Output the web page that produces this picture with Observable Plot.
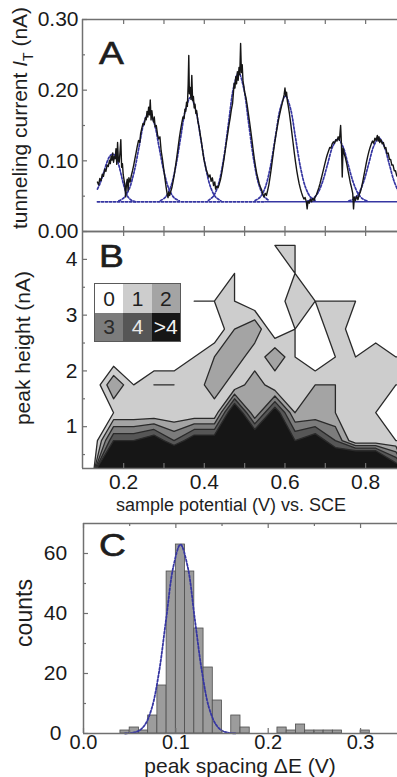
<!DOCTYPE html>
<html><head><meta charset="utf-8">
<script src="https://cdn.jsdelivr.net/npm/d3@7"></script>
<script src="https://cdn.jsdelivr.net/npm/@observablehq/plot@0.6"></script>
<style>
html,body{margin:0;padding:0;background:#fff;overflow:hidden}
#wrap{position:relative;width:397px;height:777px;font-family:"Liberation Sans",Arial,Helvetica,sans-serif;color:#1e1e1e;background:#fff}
#wrap svg{position:absolute;left:0;overflow:visible;background:transparent}
.t{position:absolute;white-space:nowrap;line-height:1;color:#1e1e1e}
.rot{transform:translate(-50%,-50%) rotate(-90deg)}
.ctr{transform:translate(-50%,-50%)}
.lg{position:absolute;left:94px;top:283px;width:87px;height:59px;display:grid;grid-template-columns:repeat(3,1fr);grid-template-rows:repeat(2,1fr);border:1px solid #5a5a5a;box-sizing:border-box}
.lg div{display:flex;align-items:center;justify-content:center;font-size:21px;line-height:1}
</style></head><body><div id="wrap"></div>
<script>
// ---------- Panel A: tunneling current vs sample potential ----------
const traceA = [
[0.135,0.070],[0.138,0.066],[0.141,0.075],[0.144,0.072],[0.147,0.081],[0.150,0.078],[0.153,0.088],[0.156,0.085],[0.159,0.094],[0.162,0.092],[0.165,0.101],[0.167,0.096],[0.169,0.107],[0.171,0.101],[0.173,0.111],[0.175,0.098],[0.177,0.106],[0.179,0.103],[0.181,0.117],[0.183,0.095],[0.185,0.126],[0.187,0.100],[0.189,0.098],[0.191,0.112],[0.193,0.130],[0.195,0.091],[0.197,0.096],[0.199,0.080],[0.201,0.073],[0.203,0.066],[0.205,0.049],[0.207,0.068],[0.209,0.074],[0.211,0.058],
[0.213,0.076],[0.216,0.070],[0.219,0.079],[0.222,0.086],[0.225,0.094],[0.228,0.103],[0.231,0.112],[0.234,0.121],[0.237,0.129],[0.240,0.126],[0.242,0.138],[0.245,0.146],[0.248,0.153],[0.251,0.151],[0.254,0.161],[0.256,0.158],[0.258,0.170],[0.260,0.162],[0.262,0.176],[0.264,0.165],[0.266,0.186],[0.268,0.158],[0.270,0.171],
[0.272,0.160],[0.274,0.155],[0.276,0.162],[0.278,0.148],[0.281,0.150],[0.284,0.137],[0.287,0.131],[0.290,0.134],[0.293,0.114],[0.296,0.103],[0.299,0.090],[0.302,0.077],[0.305,0.064],[0.308,0.053],[0.310,0.048],[0.312,0.056],[0.314,0.051],
[0.317,0.057],[0.320,0.063],[0.323,0.072],[0.326,0.082],[0.329,0.094],[0.332,0.106],[0.335,0.119],[0.338,0.132],[0.341,0.143],[0.344,0.153],[0.347,0.162],[0.350,0.160],[0.352,0.173],[0.354,0.170],[0.356,0.183],[0.358,0.177],[0.360,0.208],[0.3615,0.249],[0.363,0.195],[0.365,0.204],[0.367,0.187],[0.369,0.221],[0.371,0.185],[0.373,0.191],[0.375,0.175],[0.377,0.180],[0.379,0.167],[0.381,0.171],
[0.384,0.156],[0.387,0.148],[0.390,0.137],[0.393,0.126],[0.396,0.114],[0.399,0.102],[0.402,0.095],[0.405,0.087],[0.408,0.082],[0.411,0.077],[0.414,0.080],[0.417,0.071],[0.420,0.076],[0.423,0.065],[0.426,0.070],[0.428,0.060],[0.431,0.064],[0.434,0.062],
[0.437,0.067],[0.440,0.073],[0.443,0.082],[0.446,0.092],[0.449,0.103],[0.452,0.115],[0.455,0.127],[0.458,0.138],[0.461,0.150],[0.464,0.160],[0.467,0.172],[0.470,0.181],[0.472,0.195],[0.474,0.210],[0.476,0.203],[0.478,0.219],[0.480,0.209],[0.482,0.226],[0.484,0.214],[0.486,0.232],[0.488,0.222],[0.490,0.266],[0.492,0.225],[0.494,0.236],[0.496,0.212],
[0.498,0.206],[0.500,0.197],[0.503,0.190],[0.506,0.180],[0.509,0.168],[0.512,0.156],[0.515,0.143],[0.518,0.130],[0.521,0.116],[0.524,0.103],[0.527,0.092],[0.530,0.082],[0.533,0.075],[0.536,0.068],[0.539,0.063],[0.542,0.059],[0.545,0.053],[0.548,0.049],[0.551,0.054],[0.554,0.051],
[0.557,0.058],[0.560,0.066],[0.563,0.077],[0.566,0.089],[0.569,0.102],[0.572,0.115],[0.575,0.127],[0.578,0.138],[0.581,0.148],[0.584,0.158],[0.587,0.166],[0.590,0.174],[0.593,0.181],[0.596,0.188],[0.598,0.194],[0.600,0.203],[0.602,0.192],[0.604,0.197],[0.606,0.184],
[0.608,0.178],[0.611,0.167],[0.614,0.154],[0.617,0.140],[0.620,0.126],[0.623,0.112],[0.626,0.099],[0.629,0.087],[0.632,0.077],[0.635,0.068],[0.638,0.061],[0.641,0.055],[0.644,0.050],[0.647,0.046],[0.650,0.048],[0.653,0.042],[0.655,0.032],[0.657,0.043],[0.660,0.040],[0.663,0.046],[0.666,0.042],[0.669,0.047],[0.672,0.044],
[0.675,0.049],[0.678,0.052],[0.681,0.057],[0.684,0.062],[0.687,0.068],[0.690,0.075],[0.693,0.082],[0.696,0.089],[0.699,0.096],[0.702,0.103],[0.705,0.109],[0.708,0.114],[0.711,0.119],[0.714,0.118],[0.717,0.124],[0.720,0.127],[0.723,0.125],[0.726,0.130],[0.729,0.128],[0.732,0.134],[0.735,0.129],[0.738,0.150],[0.740,0.124],[0.742,0.077],[0.744,0.118],
[0.747,0.110],[0.750,0.104],[0.753,0.096],[0.756,0.087],[0.759,0.078],[0.762,0.069],[0.765,0.062],[0.768,0.054],[0.770,0.032],[0.772,0.049],[0.775,0.044],[0.778,0.050],[0.781,0.045],[0.784,0.052],
[0.787,0.056],[0.790,0.063],[0.793,0.071],[0.796,0.080],[0.799,0.089],[0.802,0.098],[0.805,0.106],[0.808,0.113],[0.811,0.119],[0.814,0.124],[0.817,0.128],[0.820,0.125],[0.823,0.132],[0.826,0.129],[0.829,0.136],[0.831,0.128],[0.833,0.134],[0.835,0.126],
[0.838,0.130],[0.841,0.124],[0.844,0.126],[0.847,0.118],[0.850,0.119],[0.853,0.110],[0.856,0.111],[0.859,0.102],[0.862,0.102],[0.865,0.094],[0.868,0.094],[0.871,0.086],[0.874,0.086],[0.877,0.079],[0.880,0.077]
];
// dashed peak fits (V, nA)
const fitPeak1 = [[0.135,0.060],[0.140,0.066],[0.146,0.075],[0.152,0.086],[0.158,0.097],[0.164,0.105],[0.170,0.109],[0.176,0.109],[0.182,0.104],[0.188,0.094],[0.194,0.080],[0.200,0.066],[0.206,0.055],[0.212,0.048],[0.220,0.044],[0.230,0.042]];
const fitPeak2 = [[0.188,0.0434],[0.2005,0.0476],[0.213,0.0592],[0.2255,0.0832],[0.238,0.119],[0.2505,0.154],[0.263,0.169],[0.2755,0.154],[0.288,0.119],[0.3005,0.0832],[0.313,0.0592],[0.3255,0.0476],[0.338,0.0434]];
const fitPeak3 = [[0.291,0.0436],[0.3035,0.0485],[0.316,0.062],[0.3285,0.090],[0.341,0.1318],[0.3535,0.1725],[0.366,0.190],[0.3785,0.1725],[0.391,0.1318],[0.4035,0.090],[0.416,0.062],[0.4285,0.0485],[0.441,0.0436]];
const fitPeak4 = [[0.410,0.044],[0.4225,0.050],[0.435,0.0668],[0.4475,0.1015],[0.460,0.153],[0.4725,0.2034],[0.485,0.225],[0.4975,0.2034],[0.510,0.153],[0.5225,0.1015],[0.535,0.0668],[0.5475,0.050],[0.560,0.044]];
const fitPeak5 = [[0.526,0.0437],[0.5385,0.0486],[0.551,0.0623],[0.5635,0.0907],[0.576,0.133],[0.5885,0.1743],[0.601,0.192],[0.6135,0.1743],[0.626,0.133],[0.6385,0.0907],[0.651,0.0623],[0.6635,0.0486],[0.676,0.0437]];
const fitPeak6 = [[0.656,0.043],[0.6685,0.0459],[0.681,0.054],[0.6935,0.0709],[0.706,0.096],[0.7185,0.1205],[0.731,0.131],[0.7435,0.1205],[0.756,0.096],[0.7685,0.0709],[0.781,0.054],[0.7935,0.0459],[0.806,0.043]];
const fitPeak7 = [[0.758,0.043],[0.7705,0.046],[0.783,0.0542],[0.7955,0.0712],[0.808,0.0966],[0.8205,0.1214],[0.833,0.132],[0.8455,0.1214],[0.858,0.0966],[0.8705,0.0712],[0.883,0.0542]];
const baselineDashed = [[0.135,0.042],[0.55,0.042]];
const baselineSolid = [[0.55,0.042],[0.879,0.042]];
const xTicksA = [0.2,0.3,0.4,0.5,0.6,0.7,0.8];
const yTicksA = [0, 0.1, 0.2, 0.3];
const yMinorA = [0.05, 0.15, 0.25];

// ---------- Panel B: peak-height histogram contour ----------
// grid centres: potential 0.125..0.875 (step 0.05), height 0.25..4.75 (step 0.5); rows bottom -> top
const potentialCentres = [0.125,0.175,0.225,0.275,0.325,0.375,0.425,0.475,0.525,0.575,0.625,0.675,0.725,0.775,0.825,0.875];
const heightCentres = [0.25,0.75,1.25,1.75,2.25,2.75,3.25,3.75,4.25,4.75];
const peakCounts = [
  [0,30,25,25,10,25,25,30,25,30,25,25, 8,12,12, 6],
  [0, 5, 5, 6, 4, 6, 6,10, 7,10, 5, 6, 4, 1, 1, 1],
  [0, 1, 1, 1, 1, 1, 1, 7, 2, 6, 2, 2, 2, 1, 1, 0],
  [0, 3, 1, 2, 2, 1, 3, 1, 3, 1, 1, 2, 2, 1, 1, 1],
  [0, 0, 0, 0, 0, 1, 2, 3, 1, 3, 1, 0, 1, 1, 2, 1],
  [0, 0, 0, 0, 0, 0, 0, 2, 3, 0, 1, 0, 2, 0, 0, 0],
  [0, 0, 0, 0, 0, 1, 1, 1, 0, 0, 2, 1, 1, 1, 0, 0],
  [0, 0, 0, 0, 0, 0, 0, 1, 0, 0, 1, 0, 0, 0, 0, 0],
  [0, 0, 0, 0, 0, 0, 0, 0, 0, 1, 1, 0, 0, 0, 0, 0],
  [0, 0, 0, 0, 0, 0, 0, 0, 0, 0, 0, 0, 0, 0, 0, 0]
];
const levelThresholds = [1,2,3,4,5];
const levelLabels = ["0","1","2","3","4",">4"];
const levelColors = ["#ffffff","#cdcdcd","#a4a4a4","#7c7c7c","#565656","#161616"];
const levelTextColors = ["#1e1e1e","#1e1e1e","#1e1e1e","#2a2a2a","#e8e8e8","#f2f2f2"];
const xLabelsB = [0.2,0.4,0.6,0.8];
const yTicksB = [1,2,3,4];
const yMinorB = [0.5,1.5,2.5,3.5];

// ---------- Panel C: peak spacing histogram ----------
const spacingBins = [
  [0.04,0.05,1],[0.05,0.06,2],[0.06,0.07,1],[0.07,0.08,6],[0.08,0.09,16],[0.09,0.10,54],[0.10,0.11,63],
  [0.11,0.12,54],[0.12,0.13,35],[0.13,0.14,22],[0.14,0.15,11],[0.16,0.17,6],[0.17,0.18,2],
  [0.21,0.22,2],[0.22,0.23,1],[0.23,0.24,3],[0.24,0.25,1],[0.25,0.26,1],[0.26,0.27,1],[0.27,0.28,1],[0.30,0.31,1]
];
const fitSpacing = [[0.045,0],[0.0585,0.7],[0.0663,2.8],[0.074,8.5],[0.0818,20.5],[0.0895,38.2],[0.0973,55.6],[0.105,63],[0.1128,55.6],[0.1205,38.2],[0.1283,20.5],[0.136,8.5],[0.1438,2.8],[0.1515,0.7],[0.165,0]];
const xTicksC = [0,0.1,0.2,0.3];
const xMinorC = [0.05,0.15,0.25];
const yTicksC = [0,20,40,60];
const yMinorC = [10,30,50];

// ---------- drawing ----------
const W = 397;
const axisColor = "#707070";
const textColor = "#1a1a1a";
const fitColor = "#3636a2";
const font = "Liberation Sans, Arial, Helvetica, sans-serif";
const style = {background: "transparent", overflow: "visible", fontFamily: font, color: textColor};

function inTicks(vals, dir, fw, fh, len) {
  const s = {stroke: axisColor, strokeWidth: 1.2};
  if (dir === "x") return [
    Plot.tickX(vals, {x: d => d, insetTop: fh - len, ...s}),
    Plot.tickX(vals, {x: d => d, insetBottom: fh - len, ...s})
  ];
  return [Plot.tickY(vals, {y: d => d, insetRight: fw - len, ...s})];
}
const line = (data, o) => Plot.line(data, {x: d => d[0], y: d => d[1], ...o});
const fitStyle = {stroke: fitColor, strokeWidth: 1.7, strokeDasharray: "2.2,1.8", curve: "catmull-rom"};

// A
const aTop = 19, aBot = 231, aH = 240;
const xDomAB = [0.098, 0.879];
const fwAB = W - 82;
const plotA = Plot.plot({
  width: W, height: aH, marginTop: aTop, marginBottom: aH - aBot, marginLeft: 82, marginRight: 0,
  x: {domain: xDomAB, axis: null}, y: {domain: [0, 0.30], axis: null}, style,
  marks: [
    line(baselineDashed, {stroke: fitColor, strokeWidth: 1.7, strokeDasharray: "2.2,1.8"}),
    line(baselineSolid, {stroke: fitColor, strokeWidth: 1.6}),
    ...[fitPeak1, fitPeak2, fitPeak3, fitPeak4, fitPeak5, fitPeak6, fitPeak7].map(p => line(p, {...fitStyle, clip: true})),
    line(traceA, {stroke: "#161616", strokeWidth: 1.4, strokeLinejoin: "round"}),
    ...inTicks(xTicksA, "x", fwAB, aBot - aTop, 5),
    ...inTicks(yTicksA, "y", fwAB, aBot - aTop, 5),
    ...inTicks(yMinorA, "y", fwAB, aBot - aTop, 3),
    Plot.ruleY([0, 0.30], {stroke: axisColor, strokeWidth: 1.5}),
    Plot.ruleX([xDomAB[0]], {stroke: axisColor, strokeWidth: 1.5}),
    Plot.axisY(yTicksA, {tickSize: 0, tickPadding: 4, tickFormat: d3.format(".2f"), fontSize: 21, label: null, color: textColor})
  ]
});

// B
const bSvgTop = 222, bTop = 231, bBot = 468, bH = 290;
const plotB = Plot.plot({
  width: W, height: bH, marginTop: bTop - bSvgTop, marginBottom: bH - (bBot - bSvgTop), marginLeft: 82, marginRight: 0,
  x: {domain: xDomAB, axis: null}, y: {domain: [0.25, 4.5], axis: null}, style,
  color: {type: "ordinal", domain: levelThresholds, range: levelColors.slice(1)},
  marks: [
    Plot.contour(peakCounts.flat(), {
      width: potentialCentres.length, height: heightCentres.length,
      x1: potentialCentres[0] - 0.025, x2: potentialCentres[potentialCentres.length - 1] + 0.025,
      y1: heightCentres[0] - 0.25, y2: heightCentres[heightCentres.length - 1] + 0.25,
      thresholds: levelThresholds, fill: Plot.identity, stroke: "#2a2a2a", strokeWidth: 1.3,
      strokeLinejoin: "round", clip: true
    }),
    ...inTicks(xTicksA, "x", fwAB, bBot - bTop, 5),
    ...inTicks(yTicksB, "y", fwAB, bBot - bTop, 5),
    ...inTicks(yMinorB, "y", fwAB, bBot - bTop, 3),
    Plot.ruleY([0.25, 4.5], {stroke: axisColor, strokeWidth: 1.5}),
    Plot.ruleX([xDomAB[0]], {stroke: axisColor, strokeWidth: 1.5}),
    Plot.axisY(yTicksB, {tickSize: 0, tickPadding: 5, tickFormat: d3.format("d"), fontSize: 21, label: null, color: textColor}),
    Plot.axisX(xLabelsB, {tickSize: 0, tickPadding: 6, tickFormat: d3.format(".1f"), fontSize: 21, label: null, color: textColor})
  ]
});

// C
const cSvgTop = 510, cTop = 523, cBot = 733, cH = 267;
const fwC = W - 83;
const plotC = Plot.plot({
  width: W, height: cH, marginTop: cTop - cSvgTop, marginBottom: cH - (cBot - cSvgTop), marginLeft: 83, marginRight: 0,
  x: {domain: [0, 0.34], axis: null}, y: {domain: [0, 70], axis: null}, style,
  marks: [
    Plot.rect(spacingBins, {x1: d => d[0], x2: d => d[1], y1: 0, y2: d => d[2], fill: "#9c9c9c", stroke: "#4e4e4e", strokeWidth: 0.8}),
    line(fitSpacing, {...fitStyle, strokeWidth: 1.8}),
    ...inTicks(xTicksC, "x", fwC, cBot - cTop, 5),
    ...inTicks(xMinorC, "x", fwC, cBot - cTop, 3),
    ...inTicks(yTicksC, "y", fwC, cBot - cTop, 5),
    ...inTicks(yMinorC, "y", fwC, cBot - cTop, 3),
    Plot.ruleY([0, 70], {stroke: axisColor, strokeWidth: 1.5}),
    Plot.ruleX([0], {stroke: axisColor, strokeWidth: 1.5}),
    Plot.axisY(yTicksC, {tickSize: 0, tickPadding: 28, textAnchor: "middle", fontSize: 21, label: null, color: textColor}),
    Plot.axisX(xTicksC, {tickSize: 0, tickPadding: 1, tickFormat: d3.format(".1f"), fontSize: 20, label: null, color: textColor})
  ]
});

const wrap = document.getElementById("wrap");
[[plotB, bSvgTop], [plotC, cSvgTop], [plotA, 0]].forEach(([p, top]) => { p.style.top = top + "px"; wrap.appendChild(p); });

function addText(html, x, y, size, cls) {
  const d = document.createElement("div");
  d.className = "t " + cls; d.innerHTML = html;
  d.style.left = x + "px"; d.style.top = y + "px"; d.style.fontSize = size + "px";
  wrap.appendChild(d); return d;
}
addText('tunneling current <i>I</i><sub style="font-size:14px">T</sub> (nA)', 22, 118, 21, "rot");
addText("peak height (nA)", 22, 348, 21, "rot");
addText("counts", 24, 613, 23, "rot");
addText("sample potential (V) vs. SCE", 231, 505, 18, "ctr");
addText("peak spacing \u0394E (V)", 240, 764.5, 21, "ctr");
[["A", 99, 38], ["B", 99, 241], ["C", 99, 530]].forEach(([s, x, y]) => {
  const d = addText(s, x, y, 31, "");
  d.style.transform = "scaleX(1.2)"; d.style.transformOrigin = "left top";
  d.style.webkitTextStroke = "0.6px #1a1a1a";
});
// legend
const lg = document.createElement("div"); lg.className = "lg";
levelLabels.forEach((lab, i) => {
  const c = document.createElement("div"); c.textContent = lab;
  c.style.background = levelColors[i]; c.style.color = levelTextColors[i];
  lg.appendChild(c);
});
wrap.appendChild(lg);
</script></body></html>
